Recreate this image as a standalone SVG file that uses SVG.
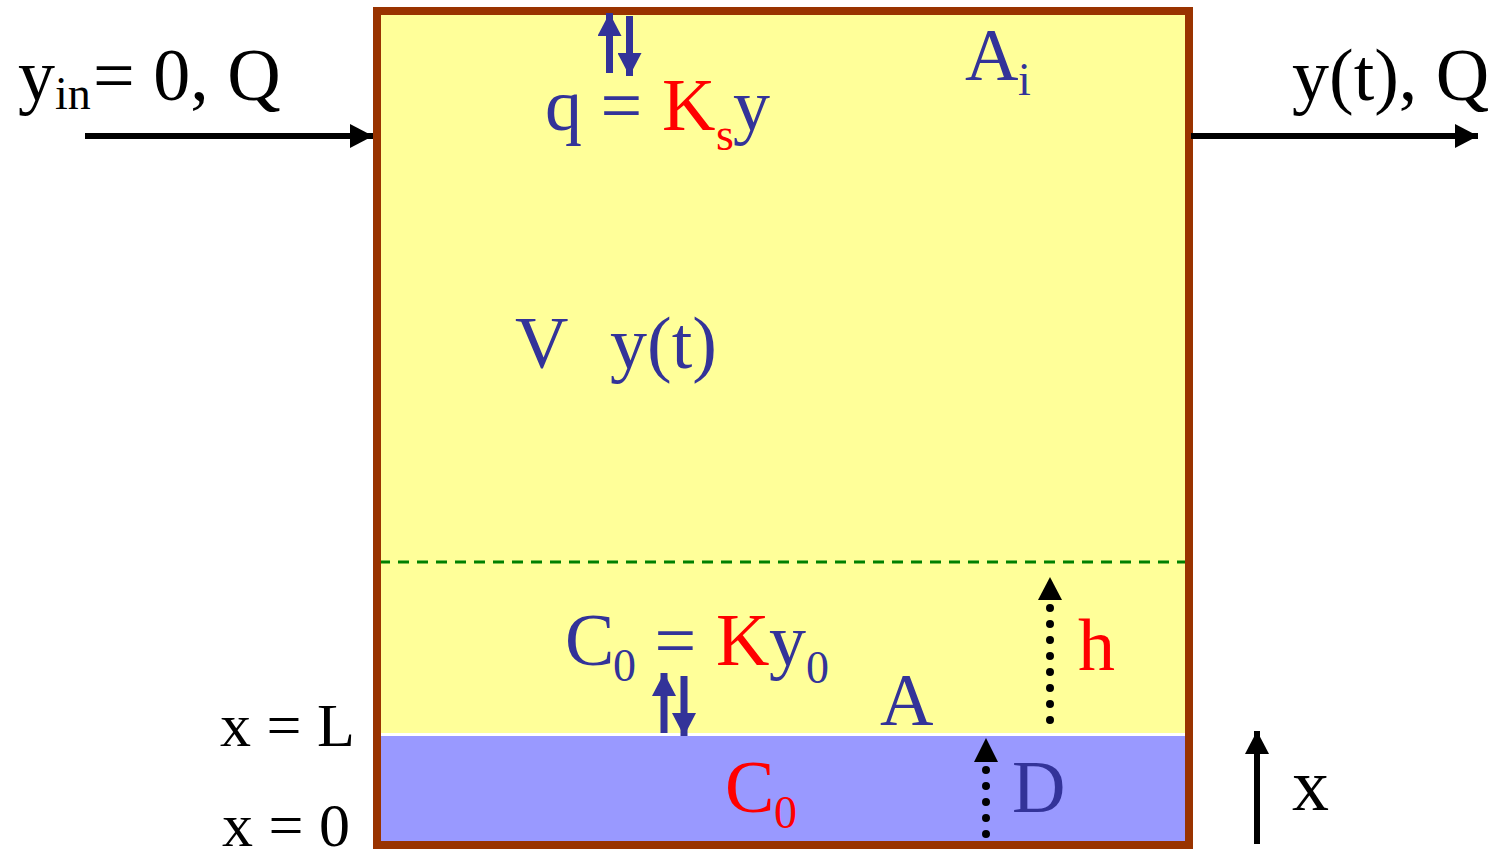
<svg xmlns="http://www.w3.org/2000/svg" width="1497" height="860" viewBox="0 0 1497 860">
<style>
text{font-family:"Liberation Serif","Times New Roman",serif;font-size:74px}
.blue{fill:#333399}
.red{fill:#ff0000}
.blk{fill:#000}
.sub{font-size:46px}
.sm{font-size:62px}
.arr{stroke:#000;stroke-width:6;fill:none}
.barr{stroke:#333399;stroke-width:7;fill:none}
.dots{stroke:#000;stroke-width:8;stroke-linecap:round;stroke-dasharray:0 16;fill:none}
</style>
<defs>
<marker id="ah" markerUnits="userSpaceOnUse" markerWidth="24" markerHeight="24" refX="23" refY="12" orient="auto"><path d="M0,0 L23,12 L0,24 z" fill="#000"/></marker>
<marker id="bh" markerUnits="userSpaceOnUse" markerWidth="24" markerHeight="24" refX="23" refY="12" orient="auto"><path d="M0,0 L23,12 L0,24 z" fill="#333399"/></marker>
</defs>
<g id="vessel">
<rect x="377" y="11" width="812" height="834" fill="#ffff99"/>
<rect x="377" y="735" width="812" height="110" fill="#9999ff"/>
<line x1="377" y1="734.5" x2="1189" y2="734.5" stroke="#fff" stroke-width="3"/>
<line x1="379" y1="562" x2="1186" y2="562" stroke="#008000" stroke-width="3" stroke-dasharray="11 8"/>
<rect x="377" y="11" width="812" height="834" fill="none" stroke="#993300" stroke-width="8"/>
</g>
<g id="connectors">
<line class="arr" x1="85" y1="136" x2="373" y2="136" marker-end="url(#ah)"/>
<line class="arr" x1="1191" y1="136" x2="1478" y2="136" marker-end="url(#ah)"/>
<line class="arr" x1="1257" y1="844" x2="1257" y2="731" stroke-width="7" marker-end="url(#ah)"/>
<line class="barr" x1="609.5" y1="73" x2="609.5" y2="13" marker-end="url(#bh)"/>
<line class="barr" x1="629.5" y1="16" x2="629.5" y2="76" marker-end="url(#bh)"/>
<line class="barr" x1="664" y1="733" x2="664" y2="673" marker-end="url(#bh)"/>
<line class="barr" x1="684" y1="676" x2="684" y2="736" marker-end="url(#bh)"/>
<line class="dots" x1="1050" y1="720" x2="1050" y2="604"/>
<polygon points="1050,577 1062,600 1038,600" fill="#000"/>
<line class="dots" x1="986" y1="834" x2="986" y2="766"/>
<polygon points="986,738 998,762 974,762" fill="#000"/>
</g>
<g id="inlet"><text class="blk" x="18" y="100">y<tspan class="sub" x="55" y="109">in</tspan><tspan x="93" y="100">= 0, Q</tspan></text></g>
<g id="outlet"><text class="blk" x="1292" y="100">y(t), Q</text></g>
<g id="flux"><text class="blue" x="545" y="130">q = <tspan class="red" x="662">K</tspan><tspan class="red sub" x="716" y="150">s</tspan><tspan x="733" y="130">y</tspan></text></g>
<g id="area-i"><text class="blue" x="965" y="80">A<tspan class="sub" x="1018" y="95">i</tspan></text></g>
<g id="volume"><text class="blue" x="515" y="368">V</text><text class="blue" x="610" y="368">y(t)</text></g>
<g id="equilibrium"><text class="blue" x="565" y="665">C<tspan class="sub" x="613" y="681">0</tspan><tspan x="636" y="665"> = </tspan><tspan class="red" x="716" y="665">K</tspan><tspan x="769" y="665">y</tspan><tspan class="sub" x="806" y="683">0</tspan></text></g>
<g id="area"><text class="blue" x="880" y="725">A</text></g>
<g id="height"><text class="red" x="1078" y="670">h</text></g>
<g id="sediment"><text class="red" x="725" y="812">C<tspan class="sub" x="774" y="828">0</tspan></text></g>
<g id="depth"><text class="blue" x="1012" y="812">D</text></g>
<g id="xL"><text class="blk sm" x="220" y="746">x = L</text></g>
<g id="x0"><text class="blk sm" x="222" y="846">x = 0</text></g>
<g id="xaxis"><text class="blk" x="1292" y="810">x</text></g>
</svg>
